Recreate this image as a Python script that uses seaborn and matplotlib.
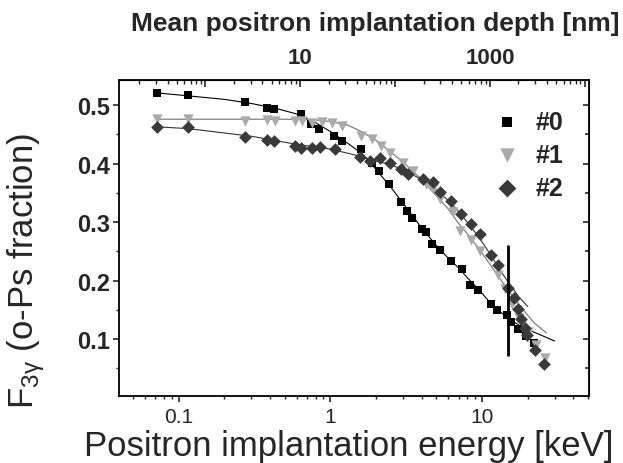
import numpy as np
import matplotlib
matplotlib.use('Agg')
import matplotlib.pyplot as plt
import seaborn as sns
from matplotlib.ticker import LogLocator, NullFormatter, FixedLocator, MultipleLocator

# measured points: positron energy [keV] vs F3gamma
e0 = [0.072, 0.115, 0.272, 0.381, 0.428, 0.638, 0.742, 0.847, 1.06, 1.20, 1.59, 1.87,
      2.10, 2.43, 2.94, 3.18, 3.43, 3.99, 4.24, 4.71, 5.24, 6.28, 7.39, 8.38, 9.41,
      11.5, 12.6, 14.5, 15.6, 17.2, 19.5, 22.0]
f0 = [0.520, 0.518, 0.506, 0.496, 0.494, 0.485, 0.468, 0.459, 0.448, 0.439, 0.425, 0.402,
      0.387, 0.365, 0.334, 0.319, 0.308, 0.288, 0.283, 0.262, 0.253, 0.234, 0.220, 0.192, 0.184,
      0.161, 0.150, 0.142, 0.130, 0.118, 0.105, 0.094]

e1 = [0.072, 0.115, 0.272, 0.381, 0.430, 0.586, 0.647, 0.753, 0.877, 1.02, 1.20, 1.59,
      1.87, 2.15, 2.47, 3.02, 3.51, 4.30, 4.76, 5.27, 6.43, 7.20, 8.50, 9.66, 12.7, 14.1,
      15.8, 17.5, 20.0, 22.5, 26.0]
f1 = [0.476, 0.477, 0.473, 0.475, 0.473, 0.473, 0.473, 0.470, 0.472, 0.470, 0.464, 0.448,
      0.442, 0.430, 0.419, 0.402, 0.388, 0.365, 0.356, 0.339, 0.317, 0.285, 0.269, 0.251, 0.209, 0.186,
      0.160, 0.137, 0.113, 0.090, 0.068]

e2 = [0.072, 0.115, 0.272, 0.381, 0.428, 0.586, 0.640, 0.753, 0.855, 1.07, 1.57, 1.82,
      2.12, 2.47, 2.94, 3.26, 4.09, 4.76, 5.27, 6.28, 7.30, 8.50, 9.66, 11.5, 12.7, 14.8,
      16.2, 17.2, 18.1, 19.1, 19.9, 22.2, 25.5]
f2 = [0.462, 0.462, 0.446, 0.440, 0.439, 0.430, 0.427, 0.427, 0.428, 0.425, 0.412, 0.405,
      0.409, 0.402, 0.391, 0.382, 0.374, 0.368, 0.351, 0.337, 0.314, 0.297, 0.280, 0.244, 0.227, 0.188,
      0.171, 0.151, 0.134, 0.120, 0.108, 0.082, 0.058]

# fit curves
fit_e0 = [0.072, 0.115, 0.2, 0.3, 0.43, 0.6, 0.8, 1.0, 1.3, 1.6, 2.0, 2.5, 3.0, 3.5, 4.0,
          5.0, 6.0, 7.0, 8.0, 9.5, 11.0, 13.0, 15.0, 18.0, 22.0, 26.0, 30.0]
fit_f0 = [0.521, 0.516, 0.510, 0.503, 0.495, 0.485, 0.470, 0.455, 0.435, 0.418, 0.390, 0.360,
          0.333, 0.310, 0.290, 0.260, 0.238, 0.222, 0.205, 0.185, 0.166, 0.148, 0.135, 0.122,
          0.112, 0.104, 0.097]
fit_e1 = [0.072, 0.2, 0.5, 0.8, 1.0, 1.3, 1.6, 2.0, 2.5, 3.0, 4.0, 5.0, 6.0, 7.0, 8.0,
          9.5, 11.0, 13.0, 15.0, 18.0, 22.0, 26.5]
fit_f1 = [0.476, 0.476, 0.476, 0.475, 0.472, 0.466, 0.455, 0.440, 0.420, 0.403, 0.373, 0.345,
          0.322, 0.298, 0.280, 0.255, 0.232, 0.205, 0.182, 0.155, 0.128, 0.111]
fit_e2 = [0.072, 0.115, 0.3, 0.6, 1.0, 1.5, 2.0, 2.5, 3.0, 4.0, 5.0, 6.0, 7.0, 8.0, 9.5,
          11.0, 13.0, 15.0, 17.5, 20.0]
fit_f2 = [0.463, 0.460, 0.447, 0.433, 0.425, 0.414, 0.405, 0.398, 0.390, 0.373, 0.355, 0.337,
          0.318, 0.300, 0.275, 0.250, 0.220, 0.196, 0.172, 0.156]

labels = ['#0', '#1', '#2']
marker_line_e = 14.8
marker_line_f = (0.071, 0.261)

# mean implantation depth z = A * E^n  [nm]
depth_a = 20.8
depth_n = 1.6

sns.set_style('ticks')
plt.rcParams['font.family'] = ['Liberation Sans', 'DejaVu Sans']
plt.rcParams['mathtext.fontset'] = 'custom'
plt.rcParams['mathtext.rm'] = 'Liberation Sans'

fig = plt.figure(figsize=(6.23, 4.64), dpi=100)
ax = fig.add_axes([0.1918, 0.1444, 0.7536, 0.681])

sns.lineplot(x=fit_e0, y=fit_f0, color='black', lw=0.8, sort=False, estimator=None, ax=ax)
sns.lineplot(x=fit_e1, y=fit_f1, color='#808080', lw=0.9, sort=False, estimator=None, ax=ax)
sns.lineplot(x=fit_e2, y=fit_f2, color='#333333', lw=0.8, sort=False, estimator=None, ax=ax)

sns.scatterplot(x=e0, y=f0, marker='s', color='black', s=32, linewidth=0, label=labels[0], ax=ax, zorder=3)
sns.scatterplot(x=e1, y=f1, marker='v', color='#aaaaaa', s=55, linewidth=0, label=labels[1], ax=ax, zorder=3)
sns.scatterplot(x=e2, y=f2, marker='D', color='#3a3a3a', s=42, linewidth=0, label=labels[2], ax=ax, zorder=3)

ax.vlines(marker_line_e, marker_line_f[0], marker_line_f[1], color='black', lw=2, zorder=4)

ax.set_xscale('log')
ax.set_xlim(0.0408, 50.6)
ax.set_ylim(0.003, 0.543)
ax.set_xlabel('')
ax.set_ylabel('')

ax.set_xticks([0.1, 1, 10])
ax.set_xticklabels(['0.1', '1', '10'])
ax.xaxis.set_minor_locator(LogLocator(base=10, subs=np.arange(2, 10)))
ax.xaxis.set_minor_formatter(NullFormatter())
ax.set_yticks([0.1, 0.2, 0.3, 0.4, 0.5])
ax.set_yticklabels(['0.1', '0.2', '0.3', '0.4', '0.5'])
ax.yaxis.set_minor_locator(MultipleLocator(0.05))

for sp in ax.spines.values():
    sp.set_linewidth(1.3)
    sp.set_color('black')

ax.tick_params(axis='x', which='major', direction='out', length=4, width=1.2, labelsize=15, pad=4, top=False)
ax.tick_params(axis='x', which='minor', direction='out', length=2.5, width=1.0, top=False)
ax.tick_params(axis='y', which='major', direction='out', length=4.5, width=1.2, labelsize=17, pad=2)
ax.tick_params(axis='y', which='minor', direction='out', length=2.5, width=1.0)
for t in ax.get_yticklabels():
    t.set_fontweight('bold')

# right side ticks pointing inwards
rax = ax.secondary_yaxis('right')
rax.set_yticks([0.1, 0.2, 0.3, 0.4, 0.5])
rax.yaxis.set_minor_locator(MultipleLocator(0.05))
rax.tick_params(which='both', direction='in', labelright=False, width=1.2)
rax.tick_params(which='major', length=4.5)
rax.tick_params(which='minor', length=3)

# top axis: mean implantation depth
def to_depth(e):
    e = np.maximum(np.asarray(e, dtype=float), 1e-6)
    return depth_a * e ** depth_n

def to_energy(d):
    d = np.maximum(np.asarray(d, dtype=float), 1e-9)
    return (d / depth_a) ** (1 / depth_n)

tax = ax.secondary_xaxis('top', functions=(to_depth, to_energy))
tax.xaxis.set_major_locator(FixedLocator([0.1, 1, 10, 100, 1000, 10000]))
tax.set_xticklabels(['', '', '10', '', '1000', ''])
tax.xaxis.set_minor_locator(LogLocator(base=10, subs=np.arange(2, 10), numticks=20))
tax.xaxis.set_minor_formatter(NullFormatter())
tax.tick_params(which='major', direction='in', length=5, width=1.2, labelsize=16, pad=9)
tax.tick_params(which='minor', direction='in', length=3, width=1.0)
for t in tax.get_xticklabels():
    t.set_fontweight('bold')

leg = ax.legend(loc='upper right', bbox_to_anchor=(0.945, 0.905), frameon=False,
                prop={'weight': 'bold', 'size': 18}, markerscale=1.4,
                handletextpad=0.15, labelspacing=0.35, borderaxespad=0, borderpad=0)

fig.text(0.602, 0.975, 'Mean positron implantation depth [nm]', ha='center', va='top',
         fontsize=19, fontweight='bold')
fig.text(0.560, 0.002, 'Positron implantation energy [keV]', ha='center', va='bottom', fontsize=25)
fig.text(0.042, 0.415, r'F$_\mathregular{3γ}$ (o-Ps fraction)', rotation=90, ha='center', va='center',
         fontsize=25)

fig.savefig('out.png', dpi=100)
